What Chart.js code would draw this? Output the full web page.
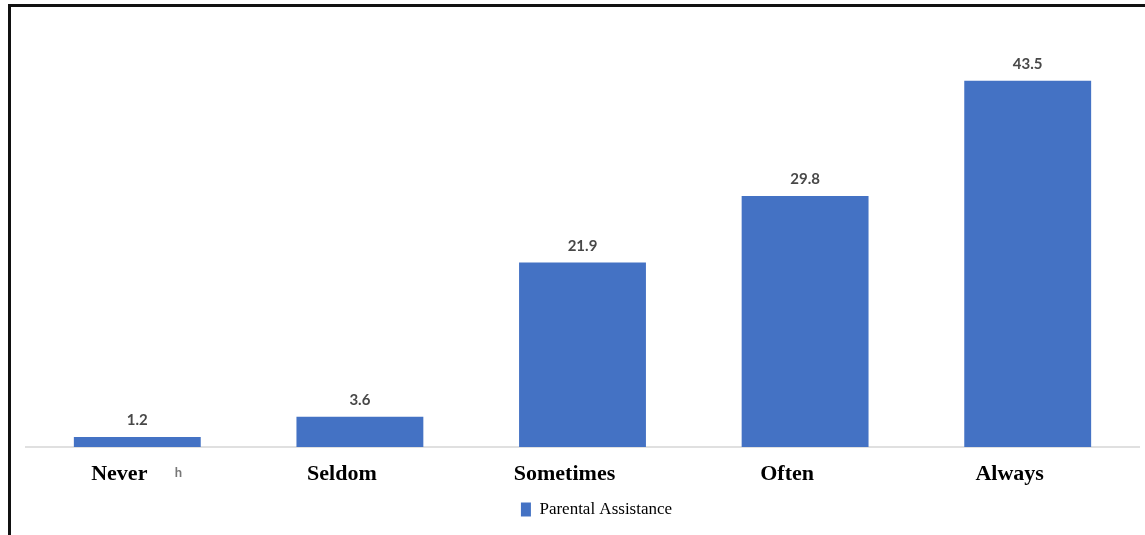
<!DOCTYPE html>
<html>
<head>
<meta charset="utf-8">
<script src="https://cdn.jsdelivr.net/npm/chart.js@4/dist/chart.umd.min.js"></script>
<style>
html,body{margin:0;padding:0;background:#fff;}
#wrap{position:relative;width:1145px;height:535px;}
#frame{position:absolute;left:8px;top:4px;right:0;bottom:0;border-top:3px solid #111;border-left:3px solid #111;pointer-events:none;}
canvas{position:absolute;left:0;top:0;}
</style>
</head>
<body>
<div id="wrap">
<canvas id="c" width="1145" height="535"></canvas>
<div id="frame"></div>
</div>
<script>
const categories = ["Never", "Seldom", "Sometimes", "Often", "Always"];
const seriesName = "Parental Assistance";
const values = [1.2, 3.6, 21.9, 29.8, 43.5];
const labelTexts = ["1.2", "3.6", "21.9", "29.8", "43.5"];
const barColor = "#4472C4";

const valueLabels = {
  id: "valueLabels",
  afterLayout(chart) {
    if (chart.legend) { chart.legend.left += 28; }
  },
  afterDatasetsDraw(chart) {
    const ctx = chart.ctx;
    const meta = chart.getDatasetMeta(0);
    ctx.save();
    ctx.fillStyle = "#484848";
    ctx.font = "bold 15px Lato, 'Open Sans', sans-serif";
    ctx.textAlign = "center";
    ctx.textBaseline = "bottom";
    meta.data.forEach((bar, i) => {
      ctx.fillText(labelTexts[i], bar.x, bar.y - 9);
    });
    // stray glyph seen next to the first category label
    const x0 = chart.scales.x.getPixelForValue(0);
    ctx.fillStyle = "#777";
    ctx.font = "bold 13px Lato, sans-serif";
    ctx.textBaseline = "middle";
    ctx.fillText("h", x0 + 41, 473);
    ctx.restore();
  }
};

new Chart(document.getElementById("c"), {
  type: "bar",
  data: {
    labels: categories,
    datasets: [{
      label: seriesName,
      data: values,
      backgroundColor: barColor,
      borderWidth: 0,
      categoryPercentage: 1.0,
      barPercentage: 0.57
    }]
  },
  options: {
    responsive: false,
    animation: false,
    devicePixelRatio: 1,
    layout: { padding: { left: 26, right: 6, top: 26, bottom: 7 } },
    plugins: {
      legend: {
        position: "bottom",
        labels: {
          color: "#000",
          font: { family: "'Liberation Serif', 'Times New Roman', serif", size: 17 },
          boxWidth: 10,
          boxHeight: 14,
          padding: 0
        }
      },
      tooltip: { enabled: false }
    },
    scales: {
      x: {
        grid: { display: false, drawTicks: false },
        border: { display: true, color: "#e0e0e0", width: 2 },
        ticks: {
          color: "#000",
          padding: 16,
          labelOffset: -18,
          font: { family: "'Liberation Serif', 'Times New Roman', serif", size: 22, weight: "bold", lineHeight: 1 }
        }
      },
      y: {
        display: false,
        min: 0,
        max: 50
      }
    }
  },
  plugins: [valueLabels]
});
</script>
</body>
</html>
